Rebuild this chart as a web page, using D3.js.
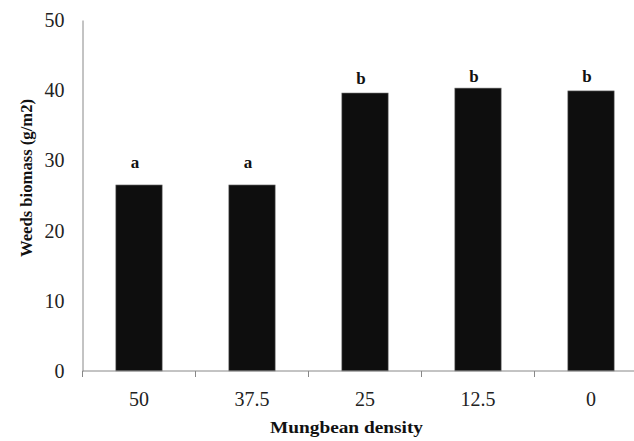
<!DOCTYPE html>
<html>
<head>
<meta charset="utf-8">
<script src="https://cdn.jsdelivr.net/npm/d3@7"></script>
<style>
  body { margin: 0; background: #fff; }
  svg { display: block; }
  text { font-family: "Liberation Serif", "Times New Roman", Times, serif; }
  .tick-label { font-size: 20px; fill: #222; }
  .axis-title { font-size: 17px; font-weight: bold; fill: #111; }
  .letter { font-size: 17px; font-weight: bold; fill: #111; }
</style>
</head>
<body>
<svg id="chart" width="634" height="441"></svg>
<script>
const width = 634;
const height = 441;

// data
const densities = ["50", "37.5", "25", "12.5", "0"];
const biomass = [26.5, 26.5, 39.6, 40.3, 39.9];
const letters = ["a", "a", "b", "b", "b"];
const letterAt = [28.9, 28.9, 40.9, 41.2, 41.1];
const yTicks = [0, 10, 20, 30, 40, 50];

const plot = { left: 82.5, top: 20, bottom: 371, step: 113 };

const svg = d3.select("svg#chart");

/* SCALES */
const scales = {
  x: d3.scaleBand(),
  y: d3.scaleLinear()
};

scales.x.domain(densities)
  .range([plot.left, plot.left + plot.step * densities.length])
  .paddingInner(0.59)
  .paddingOuter(0.295);

scales.y.domain([0, 50]).range([plot.bottom, plot.top]);

drawBars();
drawAxes();
drawTitles();


/* BARS */
function drawBars() {
  const g = svg.append("g").attr("id", "bars");

  g.selectAll("rect")
    .data(biomass)
    .enter()
    .append("rect")
      .attr("x", (d, i) => scales.x(densities[i]))
      .attr("y", d => scales.y(d))
      .attr("width", scales.x.bandwidth())
      .attr("height", d => scales.y(0) - scales.y(d))
      .style("fill", "#0e0e0e")
      .style("stroke", "#777")
      .style("stroke-width", 0.6);

  g.selectAll("text")
    .data(letters)
    .enter()
    .append("text")
      .attr("class", "letter")
      .attr("x", (d, i) => scales.x(densities[i]) + scales.x.bandwidth() / 2)
      .attr("y", (d, i) => scales.y(letterAt[i]))
      .attr("dx", -4)
      .attr("text-anchor", "middle")
      .text(d => d);
}


/* AXES */
function drawAxes() {
  const yAxis = d3.axisLeft(scales.y)
    .tickValues(yTicks)
    .tickSize(0)
    .tickPadding(18);

  const yGroup = svg.append("g")
    .attr("id", "y-axis")
    .attr("transform", translate(plot.left, 0))
    .call(yAxis);

  yGroup.attr("font-size", null).attr("font-family", null);
  yGroup.select(".domain").attr("stroke", "#888");
  yGroup.selectAll("text").attr("class", "tick-label");

  // category axis: ticks sit on the band edges
  const edges = d3.range(densities.length + 1).map(i => scales.x.range()[0] + i * scales.x.step());

  const xGroup = svg.append("g").attr("id", "x-axis");

  xGroup.append("line")
    .attr("x1", scales.x.range()[0])
    .attr("x2", scales.x.range()[1])
    .attr("y1", plot.bottom)
    .attr("y2", plot.bottom)
    .attr("stroke", "#888");

  xGroup.selectAll("line.tick")
    .data(edges)
    .enter()
    .append("line")
      .attr("class", "tick")
      .attr("x1", d => d)
      .attr("x2", d => d)
      .attr("y1", plot.bottom)
      .attr("y2", plot.bottom + 6)
      .attr("stroke", "#888");

  xGroup.selectAll("text")
    .data(densities)
    .enter()
    .append("text")
      .attr("class", "tick-label")
      .attr("x", d => scales.x(d) + scales.x.bandwidth() / 2)
      .attr("y", plot.bottom + 35)
      .attr("text-anchor", "middle")
      .text(d => d);
}


/* AXIS TITLES */
function drawTitles() {
  svg.append("text")
    .attr("class", "axis-title")
    .attr("x", 346.5)
    .attr("y", 433)
    .attr("text-anchor", "middle")
    .attr("textLength", 153)
    .attr("lengthAdjust", "spacingAndGlyphs")
    .text("Mungbean density");

  const yTitleGroup = svg.append("g").attr("transform", translate(31.5, 178));

  yTitleGroup.append("text")
    .attr("class", "axis-title")
    .attr("text-anchor", "middle")
    .attr("transform", "rotate(-90)")
    .attr("textLength", 158)
    .attr("lengthAdjust", "spacingAndGlyphs")
    .text("Weeds biomass (g/m2)");
}


function translate(x, y) {
  return "translate(" + String(x) + "," + String(y) + ")";
}
</script>
</body>
</html>
